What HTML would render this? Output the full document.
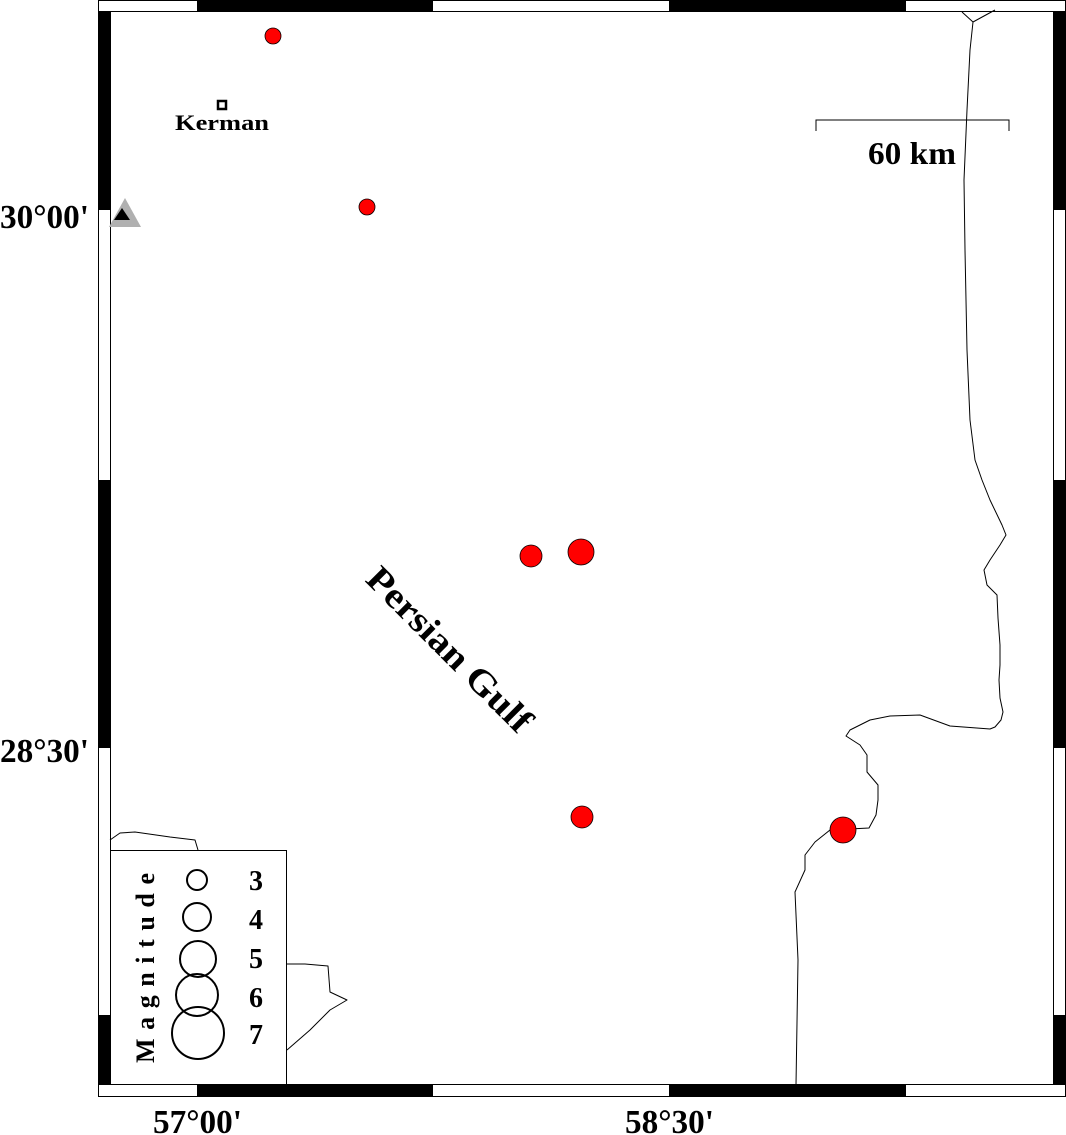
<!DOCTYPE html>
<html><head><meta charset="utf-8"><style>
html,body{margin:0;padding:0;background:#fff;}
svg{display:block;}
text{font-family:"Liberation Serif",serif;font-weight:bold;fill:#000;}
</style></head><body>
<svg width="1066" height="1135" viewBox="0 0 1066 1135" xmlns="http://www.w3.org/2000/svg">
<rect x="0" y="0" width="1066" height="1135" fill="#fff"/>
<g fill="none" stroke="#000" stroke-width="1" stroke-linejoin="round">
<path d="M962,12 L973,22 L995,10 M973,22 L970,50 L967,110 L964,180 L965,250 L967,350 L970,420 L975,460 L982,480 L990,500 L1002,525 L1006,535 L1000,545 L990,560 L984,570 L987,585 L997,595 L998,618 L1000,645 L1000,665 L999,680 L1000,698 L1003,712 L1001,720 L995,727 L990,729 L950,726 L920,715 L890,716 L870,720 L850,730 L846,736 L860,745 L867,755 L867,772 L878,785 L878,800 L876,815 L869,828 L830,830 L815,842 L805,855 L805,870 L795,892 L798,960 L796,1085"/>
<path d="M110,840 L120,833 L135,832 L170,837 L195,840 L198,850"/>
<path d="M287,964 L305,964 L328,966 L330,992 L347,1000 L330,1010 L310,1030 L287,1050"/>
</g>
<rect x="98.5" y="0.5" width="967" height="1096" fill="none" stroke="#000" stroke-width="1"/>
<rect x="110.5" y="11.5" width="943" height="1073" fill="none" stroke="#000" stroke-width="1"/>
<g fill="#000">
<rect x="197" y="0" width="236" height="11"/>
<rect x="669" y="0" width="237" height="11"/>
<rect x="197" y="1085" width="236" height="12"/>
<rect x="669" y="1085" width="237" height="12"/>
<rect x="98" y="11" width="12" height="199"/>
<rect x="98" y="480" width="12" height="268"/>
<rect x="98" y="1015" width="12" height="70"/>
<rect x="1054" y="11" width="12" height="199"/>
<rect x="1054" y="480" width="12" height="268"/>
<rect x="1054" y="1015" width="12" height="70"/>
</g>
<rect x="110.5" y="850.5" width="176" height="234" fill="#fff" stroke="#000" stroke-width="1"/>
<g fill="none" stroke="#000" stroke-width="2">
<circle cx="197" cy="880" r="10"/>
<circle cx="197" cy="917" r="14"/>
<circle cx="198" cy="959" r="18"/>
<circle cx="197" cy="995" r="21"/>
<circle cx="198" cy="1033" r="26"/>
</g>
<g font-size="28">
<text x="249" y="890">3</text>
<text x="249" y="929">4</text>
<text x="249" y="968">5</text>
<text x="249" y="1007">6</text>
<text x="249" y="1044">7</text>
</g>
<text transform="translate(154,968) rotate(-90)" text-anchor="middle" font-size="26" textLength="190" lengthAdjust="spacing">Magnitude</text>
<g fill="#ff0000" stroke="#000" stroke-width="0.8">
<circle cx="273" cy="36" r="8"/>
<circle cx="367" cy="207" r="8"/>
<circle cx="531" cy="556" r="11"/>
<circle cx="581" cy="552" r="13"/>
<circle cx="582" cy="817" r="11"/>
<circle cx="843" cy="830" r="13"/>
</g>
<rect x="218" y="101" width="8" height="8" fill="#fff" stroke="#000" stroke-width="2.5"/>
<text x="175" y="130" font-size="22" textLength="94" lengthAdjust="spacingAndGlyphs">Kerman</text>
<polygon points="125,198 141,227 109,227" fill="#b0b0b0"/>
<polygon points="122,208 130,220 114,220" fill="#000"/>
<path d="M816,131 L816,120 L1009,120 L1009,131" fill="none" stroke="#000" stroke-width="1"/>
<text x="868" y="164" font-size="32" textLength="88" lengthAdjust="spacingAndGlyphs">60 km</text>
<text transform="translate(447,652) rotate(45)" text-anchor="middle" dominant-baseline="middle" font-size="36" textLength="218" lengthAdjust="spacingAndGlyphs">Persian Gulf</text>
<g font-size="34">
<text x="0" y="228" textLength="89" lengthAdjust="spacingAndGlyphs">30°00'</text>
<text x="0" y="762" textLength="89" lengthAdjust="spacingAndGlyphs">28°30'</text>
<text x="153" y="1133" textLength="89" lengthAdjust="spacingAndGlyphs">57°00'</text>
<text x="625" y="1133" textLength="89" lengthAdjust="spacingAndGlyphs">58°30'</text>
</g>
</svg>
</body></html>
